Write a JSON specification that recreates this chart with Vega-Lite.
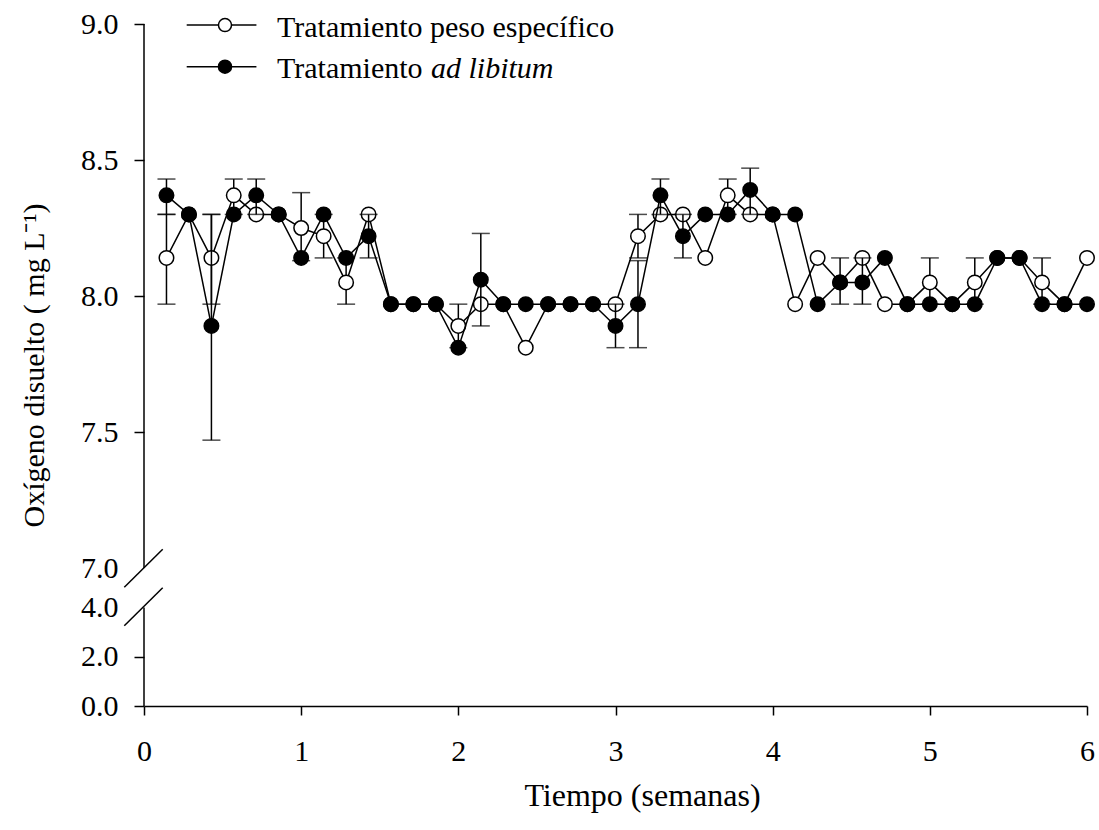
{
  "$schema": "https://vega.github.io/schema/vega-lite/v6.json",
  "width": 943,
  "height": 682,
  "autosize": {"type": "none"},
  "padding": {"left": 144, "top": 24, "right": 12, "bottom": 124},
  "background": "white",
  "config": {
    "view": {"stroke": null},
    "font": "Liberation Serif",
    "axis": {"grid": false, "labelFont": "Liberation Serif", "titleFont": "Liberation Serif", "labelFontSize": 30, "titleFontSize": 30, "titleFontWeight": "normal", "labelColor": "black", "titleColor": "black", "tickColor": "black", "domainColor": "black", "tickWidth": 1.5, "domainWidth": 1.5, "labelFlush": false, "labelOverlap": false}
  },
  "datasets": {
    "peso": [
      {"t": 0.143, "y": 8.14, "lo": 7.97, "hi": 8.30},
      {"t": 0.286, "y": 8.30},
      {"t": 0.429, "y": 8.14, "lo": 7.97, "hi": 8.30},
      {"t": 0.571, "y": 8.37, "lo": 8.30, "hi": 8.43},
      {"t": 0.714, "y": 8.30},
      {"t": 0.857, "y": 8.30},
      {"t": 1.0, "y": 8.25, "lo": 8.13, "hi": 8.38},
      {"t": 1.143, "y": 8.22, "lo": 8.14, "hi": 8.30},
      {"t": 1.286, "y": 8.05, "lo": 7.97, "hi": 8.14},
      {"t": 1.429, "y": 8.30},
      {"t": 1.571, "y": 7.97},
      {"t": 1.714, "y": 7.97},
      {"t": 1.857, "y": 7.97},
      {"t": 2.0, "y": 7.89, "lo": 7.81, "hi": 7.97},
      {"t": 2.143, "y": 7.97},
      {"t": 2.286, "y": 7.97},
      {"t": 2.429, "y": 7.81},
      {"t": 2.571, "y": 7.97},
      {"t": 2.714, "y": 7.97},
      {"t": 2.857, "y": 7.97},
      {"t": 3.0, "y": 7.97},
      {"t": 3.143, "y": 8.22, "lo": 8.14, "hi": 8.30},
      {"t": 3.286, "y": 8.30},
      {"t": 3.429, "y": 8.30},
      {"t": 3.571, "y": 8.14},
      {"t": 3.714, "y": 8.37, "lo": 8.30, "hi": 8.43},
      {"t": 3.857, "y": 8.30},
      {"t": 4.0, "y": 8.30},
      {"t": 4.143, "y": 7.97},
      {"t": 4.286, "y": 8.14},
      {"t": 4.429, "y": 8.05},
      {"t": 4.571, "y": 8.14},
      {"t": 4.714, "y": 7.97},
      {"t": 4.857, "y": 7.97},
      {"t": 5.0, "y": 8.05, "lo": 7.97, "hi": 8.14},
      {"t": 5.143, "y": 7.97},
      {"t": 5.286, "y": 8.05, "lo": 7.97, "hi": 8.14},
      {"t": 5.429, "y": 8.14},
      {"t": 5.571, "y": 8.14},
      {"t": 5.714, "y": 8.05, "lo": 7.97, "hi": 8.14},
      {"t": 5.857, "y": 7.97},
      {"t": 6.0, "y": 8.14}
    ],
    "adlib": [
      {"t": 0.143, "y": 8.37, "lo": 8.30, "hi": 8.43},
      {"t": 0.286, "y": 8.30},
      {"t": 0.429, "y": 7.89, "lo": 7.47, "hi": 8.30},
      {"t": 0.571, "y": 8.30},
      {"t": 0.714, "y": 8.37, "lo": 8.30, "hi": 8.43},
      {"t": 0.857, "y": 8.30},
      {"t": 1.0, "y": 8.14},
      {"t": 1.143, "y": 8.30},
      {"t": 1.286, "y": 8.14},
      {"t": 1.429, "y": 8.22, "lo": 8.14, "hi": 8.30},
      {"t": 1.571, "y": 7.97},
      {"t": 1.714, "y": 7.97},
      {"t": 1.857, "y": 7.97},
      {"t": 2.0, "y": 7.81},
      {"t": 2.143, "y": 8.06, "lo": 7.89, "hi": 8.23},
      {"t": 2.286, "y": 7.97},
      {"t": 2.429, "y": 7.97},
      {"t": 2.571, "y": 7.97},
      {"t": 2.714, "y": 7.97},
      {"t": 2.857, "y": 7.97},
      {"t": 3.0, "y": 7.89, "lo": 7.81, "hi": 7.97},
      {"t": 3.143, "y": 7.97, "lo": 7.81, "hi": 8.13},
      {"t": 3.286, "y": 8.37, "lo": 8.30, "hi": 8.43},
      {"t": 3.429, "y": 8.22, "lo": 8.14, "hi": 8.30},
      {"t": 3.571, "y": 8.30},
      {"t": 3.714, "y": 8.30},
      {"t": 3.857, "y": 8.39, "lo": 8.30, "hi": 8.47},
      {"t": 4.0, "y": 8.30},
      {"t": 4.143, "y": 8.30},
      {"t": 4.286, "y": 7.97},
      {"t": 4.429, "y": 8.05, "lo": 7.97, "hi": 8.14},
      {"t": 4.571, "y": 8.05, "lo": 7.97, "hi": 8.14},
      {"t": 4.714, "y": 8.14},
      {"t": 4.857, "y": 7.97},
      {"t": 5.0, "y": 7.97},
      {"t": 5.143, "y": 7.97},
      {"t": 5.286, "y": 7.97},
      {"t": 5.429, "y": 8.14},
      {"t": 5.571, "y": 8.14},
      {"t": 5.714, "y": 7.97},
      {"t": 5.857, "y": 7.97},
      {"t": 6.0, "y": 7.97}
    ]
  },
  "layer": [
    {
      "data": {"name": "peso"},
      "transform": [{"filter": "isValid(datum.lo)"}],
      "mark": {"type": "errorbar", "color": "black", "thickness": 1.5, "ticks": {"size": 18, "thickness": 1.5, "color": "black"}},
      "encoding": {
        "x": {"field": "t", "type": "quantitative", "title": "Tiempo (semanas)"},
        "y": {"field": "lo", "type": "quantitative", "title": "Oxígeno disuelto ( mg L⁻¹)"},
        "y2": {"field": "hi"}
      }
    },
    {
      "data": {"name": "peso"},
      "mark": {"type": "line", "color": "black", "strokeWidth": 1.5},
      "encoding": {
        "x": {"field": "t", "type": "quantitative", "title": "Tiempo (semanas)", "scale": {"domain": [0, 6], "nice": false, "zero": false},
          "axis": {"values": [0, 1, 2, 3, 4, 5, 6], "format": "d", "tickSize": 9, "labelPadding": 21, "titlePadding": 14, "titleFontSize": 32, "titleX": 498, "titleAlign": "center", "titleAnchor": "middle"}},
        "y": {"field": "y", "type": "quantitative", "title": "Oxígeno disuelto ( mg L⁻¹)",
          "scale": {"domain": [0, 4, 7, 9], "range": [682, 583.4, 544, 0], "nice": false, "zero": false},
          "axis": {"values": [0, 2, 4, 7, 7.5, 8, 8.5, 9], "format": ".1f", "domain": false, "tickSize": 10, "labelPadding": 16, "titlePadding": 31,
            "tickColor": {"condition": {"test": "datum.value === 4 || datum.value === 7", "value": "transparent"}, "value": "black"}}},
        "order": {"field": "t"}
      }
    },
    {
      "data": {"name": "peso"},
      "mark": {"type": "point", "shape": "circle", "filled": true, "fill": "white", "stroke": "black", "strokeWidth": 1.5, "size": 210, "opacity": 1},
      "encoding": {
        "x": {"field": "t", "type": "quantitative", "title": "Tiempo (semanas)"},
        "y": {"field": "y", "type": "quantitative", "title": "Oxígeno disuelto ( mg L⁻¹)"}
      }
    },
    {
      "data": {"name": "adlib"},
      "transform": [{"filter": "isValid(datum.lo)"}],
      "mark": {"type": "errorbar", "color": "black", "thickness": 1.5, "ticks": {"size": 18, "thickness": 1.5, "color": "black"}},
      "encoding": {
        "x": {"field": "t", "type": "quantitative", "title": "Tiempo (semanas)"},
        "y": {"field": "lo", "type": "quantitative", "title": "Oxígeno disuelto ( mg L⁻¹)"},
        "y2": {"field": "hi"}
      }
    },
    {
      "data": {"name": "adlib"},
      "mark": {"type": "line", "color": "black", "strokeWidth": 1.5},
      "encoding": {
        "x": {"field": "t", "type": "quantitative", "title": "Tiempo (semanas)"},
        "y": {"field": "y", "type": "quantitative", "title": "Oxígeno disuelto ( mg L⁻¹)"},
        "order": {"field": "t"}
      }
    },
    {
      "data": {"name": "adlib"},
      "mark": {"type": "point", "shape": "circle", "filled": true, "fill": "black", "stroke": "black", "strokeWidth": 1.5, "size": 210, "opacity": 1},
      "encoding": {
        "x": {"field": "t", "type": "quantitative", "title": "Tiempo (semanas)"},
        "y": {"field": "y", "type": "quantitative", "title": "Oxígeno disuelto ( mg L⁻¹)"}
      }
    },
    {
      "data": {"values": [{}]},
      "mark": {"type": "rule", "color": "black", "strokeWidth": 1.5},
      "encoding": {"x": {"datum": 0, "title": "Tiempo (semanas)"}, "y": {"datum": 7, "title": "Oxígeno disuelto ( mg L⁻¹)"}, "y2": {"datum": 9}}
    },
    {
      "data": {"values": [{}]},
      "mark": {"type": "rule", "color": "black", "strokeWidth": 1.5},
      "encoding": {"x": {"datum": 0, "title": "Tiempo (semanas)"}, "y": {"datum": 0, "title": "Oxígeno disuelto ( mg L⁻¹)"}, "y2": {"datum": 4}}
    },
    {
      "data": {"values": [{}]},
      "mark": {"type": "rule", "color": "black", "strokeWidth": 1.5},
      "encoding": {"x": {"datum": -0.1253, "title": "Tiempo (semanas)"}, "x2": {"datum": 0.119}, "y": {"datum": 5.53, "title": "Oxígeno disuelto ( mg L⁻¹)"}, "y2": {"datum": 7.069}}
    },
    {
      "data": {"values": [{}]},
      "mark": {"type": "rule", "color": "black", "strokeWidth": 1.5},
      "encoding": {"x": {"datum": -0.1253, "title": "Tiempo (semanas)"}, "x2": {"datum": 0.119}, "y": {"datum": 3.258, "title": "Oxígeno disuelto ( mg L⁻¹)"}, "y2": {"datum": 5.5}}
    },
    {
      "data": {"values": [{}]},
      "mark": {"type": "rule", "color": "black", "strokeWidth": 1.5},
      "encoding": {"x": {"datum": 0.2717, "title": "Tiempo (semanas)"}, "x2": {"datum": 0.7153}, "y": {"datum": 8.996, "title": "Oxígeno disuelto ( mg L⁻¹)"}}
    },
    {
      "data": {"values": [{}]},
      "mark": {"type": "point", "shape": "circle", "filled": true, "fill": "white", "stroke": "black", "strokeWidth": 1.5, "size": 170, "opacity": 1},
      "encoding": {"x": {"datum": 0.5153, "title": "Tiempo (semanas)"}, "y": {"datum": 8.996, "title": "Oxígeno disuelto ( mg L⁻¹)"}}
    },
    {
      "data": {"values": [{}]},
      "mark": {"type": "text", "font": "Liberation Serif", "fontSize": 30, "color": "black", "align": "left", "baseline": "alphabetic"},
      "encoding": {"x": {"datum": 0.8462, "title": "Tiempo (semanas)"}, "y": {"datum": 8.953, "title": "Oxígeno disuelto ( mg L⁻¹)"}, "text": {"value": "Tratamiento peso específico"}}
    },
    {
      "data": {"values": [{}]},
      "mark": {"type": "rule", "color": "black", "strokeWidth": 1.5},
      "encoding": {"x": {"datum": 0.2717, "title": "Tiempo (semanas)"}, "x2": {"datum": 0.7153}, "y": {"datum": 8.843, "title": "Oxígeno disuelto ( mg L⁻¹)"}}
    },
    {
      "data": {"values": [{}]},
      "mark": {"type": "point", "shape": "circle", "filled": true, "fill": "black", "stroke": "black", "strokeWidth": 1.5, "size": 170, "opacity": 1},
      "encoding": {"x": {"datum": 0.5153, "title": "Tiempo (semanas)"}, "y": {"datum": 8.843, "title": "Oxígeno disuelto ( mg L⁻¹)"}}
    },
    {
      "data": {"values": [{}]},
      "mark": {"type": "text", "font": "Liberation Serif", "fontSize": 30, "color": "black", "align": "left", "baseline": "alphabetic"},
      "encoding": {"x": {"datum": 0.8462, "title": "Tiempo (semanas)"}, "y": {"datum": 8.800, "title": "Oxígeno disuelto ( mg L⁻¹)"}, "text": {"value": "Tratamiento"}}
    },
    {
      "data": {"values": [{}]},
      "mark": {"type": "text", "font": "Liberation Serif", "fontSize": 30, "fontStyle": "italic", "color": "black", "align": "left", "baseline": "alphabetic"},
      "encoding": {"x": {"datum": 1.826, "title": "Tiempo (semanas)"}, "y": {"datum": 8.800, "title": "Oxígeno disuelto ( mg L⁻¹)"}, "text": {"value": "ad libitum"}}
    }
  ]
}
